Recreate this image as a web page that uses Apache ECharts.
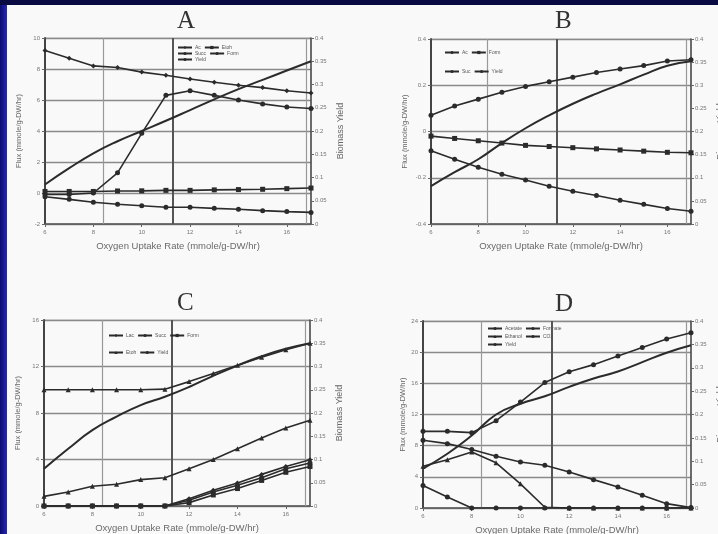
<!DOCTYPE html>
<html><head><meta charset="utf-8">
<script src="https://cdn.jsdelivr.net/npm/echarts@6/dist/echarts.min.js"></script>
<style>
html,body{margin:0;padding:0;width:718px;height:534px;overflow:hidden;background:#0a0a42;}
#paper{position:absolute;left:7px;top:5px;width:711px;height:529px;background:#f9f9f9;}
#strip{position:absolute;left:0;top:5px;width:7px;height:529px;background:linear-gradient(to right,#0b0b6a,#2626bc);}
#chart{position:absolute;left:0;top:0;width:718px;height:534px;}
</style></head><body>
<div id="paper"></div><div id="strip"></div><div id="chart"></div>
<script>
// ---- data ----
const oxygenUptake = [6, 7, 8, 9, 10, 11, 12, 13, 14, 15, 16, 17];
const xTicks = [6, 8, 10, 12, 14, 16];
const verticalLines = [8.4, 11.3, 16.8];
const panelTitles = ['A', 'B', 'C', 'D'];

// Panel A
const aAc    = [9.2, 8.7, 8.2, 8.1, 7.8, 7.6, 7.35, 7.15, 6.95, 6.8, 6.6, 6.45];
const aSucc  = [-0.1, -0.1, 0.0, 1.3, 3.85, 6.3, 6.6, 6.3, 6.0, 5.75, 5.55, 5.45];
const aEtoh  = [0.1, 0.1, 0.1, 0.13, 0.14, 0.17, 0.17, 0.2, 0.22, 0.24, 0.28, 0.32];
const aForm  = [-0.24, -0.41, -0.6, -0.73, -0.82, -0.92, -0.92, -0.99, -1.05, -1.14, -1.2, -1.25];
const aYield = [0.085, 0.12, 0.152, 0.178, 0.2, 0.222, 0.245, 0.268, 0.29, 0.31, 0.33, 0.35];

// Panel B
const bAc    = [0.07, 0.11, 0.14, 0.17, 0.195, 0.215, 0.235, 0.255, 0.27, 0.285, 0.305, 0.31];
const bForm  = [-0.02, -0.03, -0.04, -0.05, -0.06, -0.065, -0.07, -0.075, -0.08, -0.085, -0.09, -0.092];
const bSuc   = [-0.083, -0.12, -0.155, -0.185, -0.21, -0.237, -0.258, -0.277, -0.297, -0.315, -0.333, -0.345];
const bYield = [0.082, 0.112, 0.14, 0.175, 0.207, 0.235, 0.26, 0.282, 0.302, 0.323, 0.342, 0.352];

// Panel C
const cAc    = [10, 10, 10, 10, 10, 10.05, 10.7, 11.4, 12.1, 12.8, 13.45, 14.0];
const cEtoh  = [0.83, 1.2, 1.7, 1.87, 2.27, 2.43, 3.2, 4.0, 4.93, 5.85, 6.7, 7.37];
const cLac   = [0, 0, 0, 0, 0, 0, 0.63, 1.35, 1.98, 2.72, 3.4, 3.98];
const cSucc  = [0, 0, 0, 0, 0, 0, 0.5, 1.2, 1.78, 2.43, 3.2, 3.7];
const cForm  = [0, 0, 0, 0, 0, 0, 0.29, 0.95, 1.5, 2.2, 2.9, 3.4];
const cYield = [0.08, 0.123, 0.163, 0.192, 0.217, 0.235, 0.256, 0.28, 0.302, 0.322, 0.338, 0.35];

// Panel D
const dAcetate = [9.84, 9.84, 9.67, 11.2, 13.6, 16.1, 17.5, 18.4, 19.5, 20.6, 21.7, 22.5];
const dCO2     = [8.69, 8.26, 7.5, 6.63, 5.9, 5.48, 4.62, 3.64, 2.7, 1.63, 0.56, 0.05];
const dEthanol = [5.35, 6.2, 7.2, 5.8, 3.1, 0.1, 0, 0, 0, 0, 0, 0];
const dFormate = [2.9, 1.41, 0, 0, 0, 0, 0, 0, 0, 0, 0, 0];
const dYield   = [0.084, 0.116, 0.155, 0.2, 0.223, 0.239, 0.259, 0.277, 0.292, 0.312, 0.332, 0.348];

// ---- layout ----
const panels = [
  {grid:{left:45, top:38, width:266, height:186}, left:{min:-2,max:10,interval:2}, title:[185,22], nameGapL:22,
   series:[['Ac',aAc,'diamond'],['Succ',aSucc,'circle'],['Etoh',aEtoh,'rect'],['Form',aForm,'circle']], yieldArr:aYield,
   legends:[{left:177,top:45,items:['Ac','Etoh']},{left:177,top:51,items:['Succ','Form']},{left:177,top:57,items:['Yield']}], lw:32},
  {grid:{left:431, top:39, width:260, height:185}, left:{min:-0.4,max:0.4,interval:0.2}, title:[563,22], nameGapL:22,
   series:[['Ac',bAc,'circle'],['Form',bForm,'rect'],['Suc',bSuc,'circle']], yieldArr:bYield,
   legends:[{left:444,top:50,items:['Ac','Form']},{left:444,top:69,items:['Suc','Yield']}], lw:30},
  {grid:{left:44, top:320, width:266, height:186}, left:{min:0,max:16,interval:4}, title:[185,304], nameGapL:22,
   series:[['Ac',cAc,'triangle'],['Etoh',cEtoh,'triangle'],['Lac',cLac,'diamond'],['Succ',cSucc,'circle'],['Form',cForm,'rect']], yieldArr:cYield,
   legends:[{left:108,top:333,items:['Lac','Succ','Form']},{left:108,top:350,items:['Etoh','Yield']}], lw:22},
  {grid:{left:423, top:321, width:268, height:187}, left:{min:0,max:24,interval:4}, title:[563,305], nameGapL:16,
   series:[['Acetate',dAcetate,'circle'],['CO2',dCO2,'circle'],['Ethanol',dEthanol,'triangle'],['Formate',dFormate,'circle']], yieldArr:dYield,
   legends:[{left:487,top:326,items:['Acetate','Formate']},{left:487,top:334,items:['Ethanol','CO2']},{left:487,top:342,items:['Yield']}], lw:36}
];

const pts = arr => oxygenUptake.map((x, i) => [x, arr[i]]);
const INK = '#2b2b2b';
const grids = [], xAxes = [], yAxes = [], series = [], legends = [], graphics = [];

panels.forEach((p, k) => {
  const tag = '·' + panelTitles[k];
  grids.push(Object.assign({show:true, borderColor:'#c0c0c0', borderWidth:1, backgroundColor:'transparent', outerBoundsMode:'none', containLabel:false}, p.grid));
  xAxes.push({type:'value', gridIndex:k, min:6, max:17, interval:2,
    axisLine:{show:true, onZero:false, lineStyle:{color:'#555', width:1.5}},
    axisTick:{show:true, length:3, lineStyle:{color:'#666'}},
    axisLabel:{fontSize:6, color:'#777', margin:5, showMaxLabel:false, fontFamily:'Liberation Sans'},
    splitLine:{show:false},
    name:'Oxygen Uptake Rate (mmole/g-DW/hr)', nameLocation:'middle', nameGap:17,
    nameTextStyle:{fontSize:9.5, color:'#6a6a6a', fontFamily:'Liberation Sans'}});
  yAxes.push({type:'value', gridIndex:k, position:'left', min:p.left.min, max:p.left.max, interval:p.left.interval,
    axisLine:{show:true, onZero:false, lineStyle:{color:'#444', width:2}},
    axisTick:{show:true, length:3, lineStyle:{color:'#666'}},
    axisLabel:{fontSize:6, color:'#777', margin:5, fontFamily:'Liberation Sans'},
    splitLine:{show:true, lineStyle:{color:'#8a8a8a', width:1.3}},
    name:'Flux (mmole/g-DW/hr)', nameLocation:'middle', nameGap:p.nameGapL,
    nameTextStyle:{fontSize:7.5, color:'#666', fontFamily:'Liberation Sans'}});
  yAxes.push({type:'value', gridIndex:k, position:'right', min:0, max:0.4, interval:0.05,
    axisLine:{show:true, onZero:false, lineStyle:{color:'#444', width:1.5}},
    axisTick:{show:true, length:3, lineStyle:{color:'#666'}},
    axisLabel:{fontSize:6, color:'#777', margin:4, fontFamily:'Liberation Sans'},
    splitLine:{show:false},
    name:'Biomass Yield', nameLocation:'middle', nameGap:25,
    nameTextStyle:{fontSize:9, color:'#666', fontFamily:'Liberation Sans'}});

  p.series.forEach(([nm, arr, sym], j) => {
    const s = {type:'line', name:nm + tag, xAxisIndex:k, yAxisIndex:2*k, data:pts(arr),
      symbol:sym, symbolSize:5, showSymbol:true,
      lineStyle:{color:INK, width:1.6}, itemStyle:{color:INK}, silent:true, z:3};
    if (j === 0) {
      s.markLine = {silent:true, symbol:'none', label:{show:false}, z:1,
        data: verticalLines.map((v, m) => ({xAxis:v, lineStyle:{type:'solid', color: m === 1 ? '#555' : '#999', width: m === 1 ? 2 : 1.2}}))};
    }
    series.push(s);
  });
  series.push({type:'line', name:'Yield' + tag, xAxisIndex:k, yAxisIndex:2*k+1, data:pts(p.yieldArr),
    smooth:true, showSymbol:false, symbol:'none', lineStyle:{color:INK, width:2}, itemStyle:{color:INK}, silent:true, z:3});

  p.legends.forEach(L => {
    legends.push({left:L.left, top:L.top, orient:'horizontal', selectedMode:false,
      itemWidth:14, itemHeight:4, itemGap:3, padding:0,
      formatter: n => n.split('·')[0],
      textStyle:{fontSize:5, color:'#555', width:p.lw, overflow:'truncate', fontFamily:'Liberation Sans', padding:[0,0,0,-2]},
      data: L.items.map(n => n + tag)});
  });

  graphics.push({type:'text', left:p.title[0]-8, top:p.title[1]-13,
    style:{text:panelTitles[k], font:'25px "Liberation Serif", "DejaVu Serif", serif', fill:'#333'}});
});

const chart = echarts.init(document.getElementById('chart'), null, {renderer:'canvas'});
chart.setOption({
  backgroundColor:'transparent',
  animation:false,
  grid:grids, xAxis:xAxes, yAxis:yAxes, series:series, legend:legends, graphic:graphics
});
</script></body></html>
